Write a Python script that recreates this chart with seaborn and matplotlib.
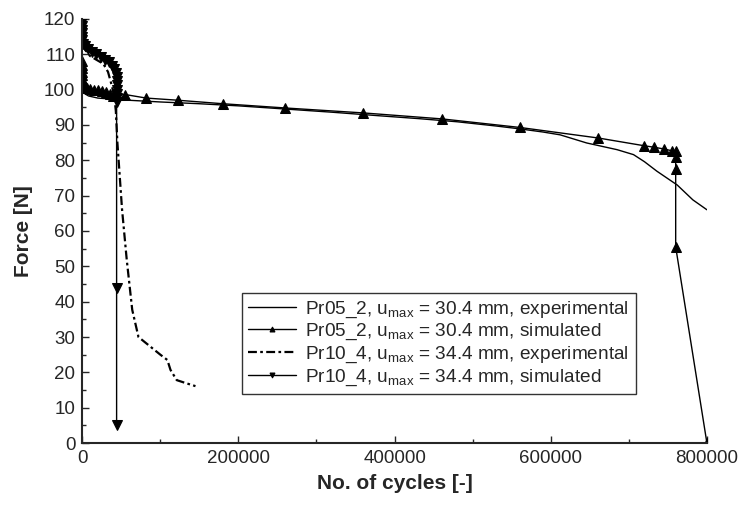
import numpy as np
import pandas as pd
import seaborn as sns
import matplotlib.pyplot as plt
from matplotlib.ticker import MultipleLocator

# values
# Pr05_2 experimental
exp05_x = [0, 0, 2000, 8000, 20000, 50000, 100000, 150000, 200000, 260000, 320000,
           380000, 430000, 480000, 530000, 560000, 590000, 612000, 646000, 685000,
           706000, 720000, 736000, 762000, 782000, 800000]
exp05_y = [104, 100.5, 99.0, 98.2, 97.6, 97.1, 96.5, 96.0, 95.4, 94.5, 93.6,
           92.6, 91.8, 90.9, 89.7, 88.9, 88.0, 87.2, 84.9, 83.0,
           81.6, 79.6, 76.9, 73.0, 68.8, 66.0]

# Pr05_2 simulated
sim05_x = [0, 0, 0, 0, 0, 0, 500, 1500, 3000, 6000, 10000, 15000, 20000, 25000,
           30000, 35000, 40000, 55000, 82000, 122000, 180000, 260000, 360000,
           461000, 560000, 661000, 720000, 732000, 745000, 755000, 760000,
           760000, 760000, 760000, 800000]
sim05_y = [108.0, 107.0, 106.0, 105.0, 104.0, 103.0, 102.0, 101.3, 100.8, 100.5,
           100.2, 100.0, 99.8, 99.5, 99.2, 98.8, 98.3, 98.6, 97.6, 97.0, 96.0,
           94.8, 93.4, 91.7, 89.3, 86.3, 84.1, 83.7, 83.2, 82.7, 82.5,
           80.9, 77.6, 55.5, 0.0]

# Pr10_4 experimental
exp10_x = [0, 0, 3000, 10000, 20000, 27000, 33000, 38000, 41000, 43000, 45000,
           51000, 57000, 64000, 72000, 100000, 109000, 113000, 121000, 132000, 145000]
exp10_y = [118, 114, 111.5, 109.5, 108.2, 107.3, 105, 101, 98, 94, 85,
           66, 51.8, 37.7, 30, 25, 23.5, 20.7, 17.8, 17, 16.1]

# Pr10_4 simulated
sim10_x = [0, 0, 0, 0, 0, 0, 0, 1000, 3000, 7000, 12000, 18000, 24000, 29000,
           34000, 38000, 41000, 43000, 44500, 45000, 45000, 45000, 44500,
           44000, 44000, 44000, 44000]
sim10_y = [120, 119, 118, 117, 116, 115, 114, 113, 112.3, 111.5, 110.7, 110,
           109.3, 108.5, 107.7, 106.8, 105.8, 104.8, 103.7, 102.5, 101.3, 100,
           98.8, 97.5, 96.5, 44, 5]

labels = ["Pr05_2, u$_{\\mathregular{max}}$ = 30.4 mm, experimental",
          "Pr05_2, u$_{\\mathregular{max}}$ = 30.4 mm, simulated",
          "Pr10_4, u$_{\\mathregular{max}}$ = 34.4 mm, experimental",
          "Pr10_4, u$_{\\mathregular{max}}$ = 34.4 mm, simulated"]

sns.set_style("ticks")
plt.rcParams['font.family'] = ['Liberation Sans', 'DejaVu Sans']
plt.rcParams['mathtext.fontset'] = 'custom'
plt.rcParams['mathtext.rm'] = 'Liberation Sans'

fig = plt.figure(figsize=(7.41, 5.11), dpi=100)
ax = fig.add_axes([0.111, 0.133, 0.843, 0.830])

common = dict(ax=ax, sort=False, estimator=None, color='black')
sns.lineplot(x=exp05_x, y=exp05_y, label=labels[0], linewidth=1.0, **common)
sns.lineplot(x=sim05_x, y=sim05_y, label=labels[1], linewidth=1.0,
             marker='^', markersize=6.5, markeredgecolor='black', **common)
sns.lineplot(x=exp10_x, y=exp10_y, label=labels[2], linewidth=1.6,
             linestyle=(0, (4, 1.5, 1.2, 1.5)), **common)
sns.lineplot(x=sim10_x, y=sim10_y, label=labels[3], linewidth=1.0,
             marker='v', markersize=6.5, markeredgecolor='black', **common)

ax.set_xlim(0, 800000)
ax.set_ylim(0, 120)
ax.xaxis.set_major_locator(MultipleLocator(200000))
ax.xaxis.set_minor_locator(MultipleLocator(100000))
ax.yaxis.set_major_locator(MultipleLocator(10))
ax.yaxis.set_minor_locator(MultipleLocator(5))
ax.tick_params(which='major', direction='in', length=5, width=1, labelsize=13.5, pad=5)
ax.tick_params(which='minor', direction='in', length=3, width=1)
sns.despine(ax=ax)
for s in ['left', 'bottom']:
    ax.spines[s].set_linewidth(1.5)

ax.set_xlabel('No. of cycles [-]', fontsize=15, weight='bold', labelpad=5)
ax.set_ylabel('Force [N]', fontsize=15, weight='bold', labelpad=8)

leg = ax.legend(loc='lower left', bbox_to_anchor=(0.255, 0.115), borderaxespad=0,
                fontsize=13.7, frameon=True, fancybox=False, edgecolor='black',
                handlelength=2.5, markerscale=0.55, labelspacing=0.12,
                borderpad=0.35, handletextpad=0.5)
leg.get_frame().set_linewidth(1.0)

plt.savefig('out.png', dpi=100)
